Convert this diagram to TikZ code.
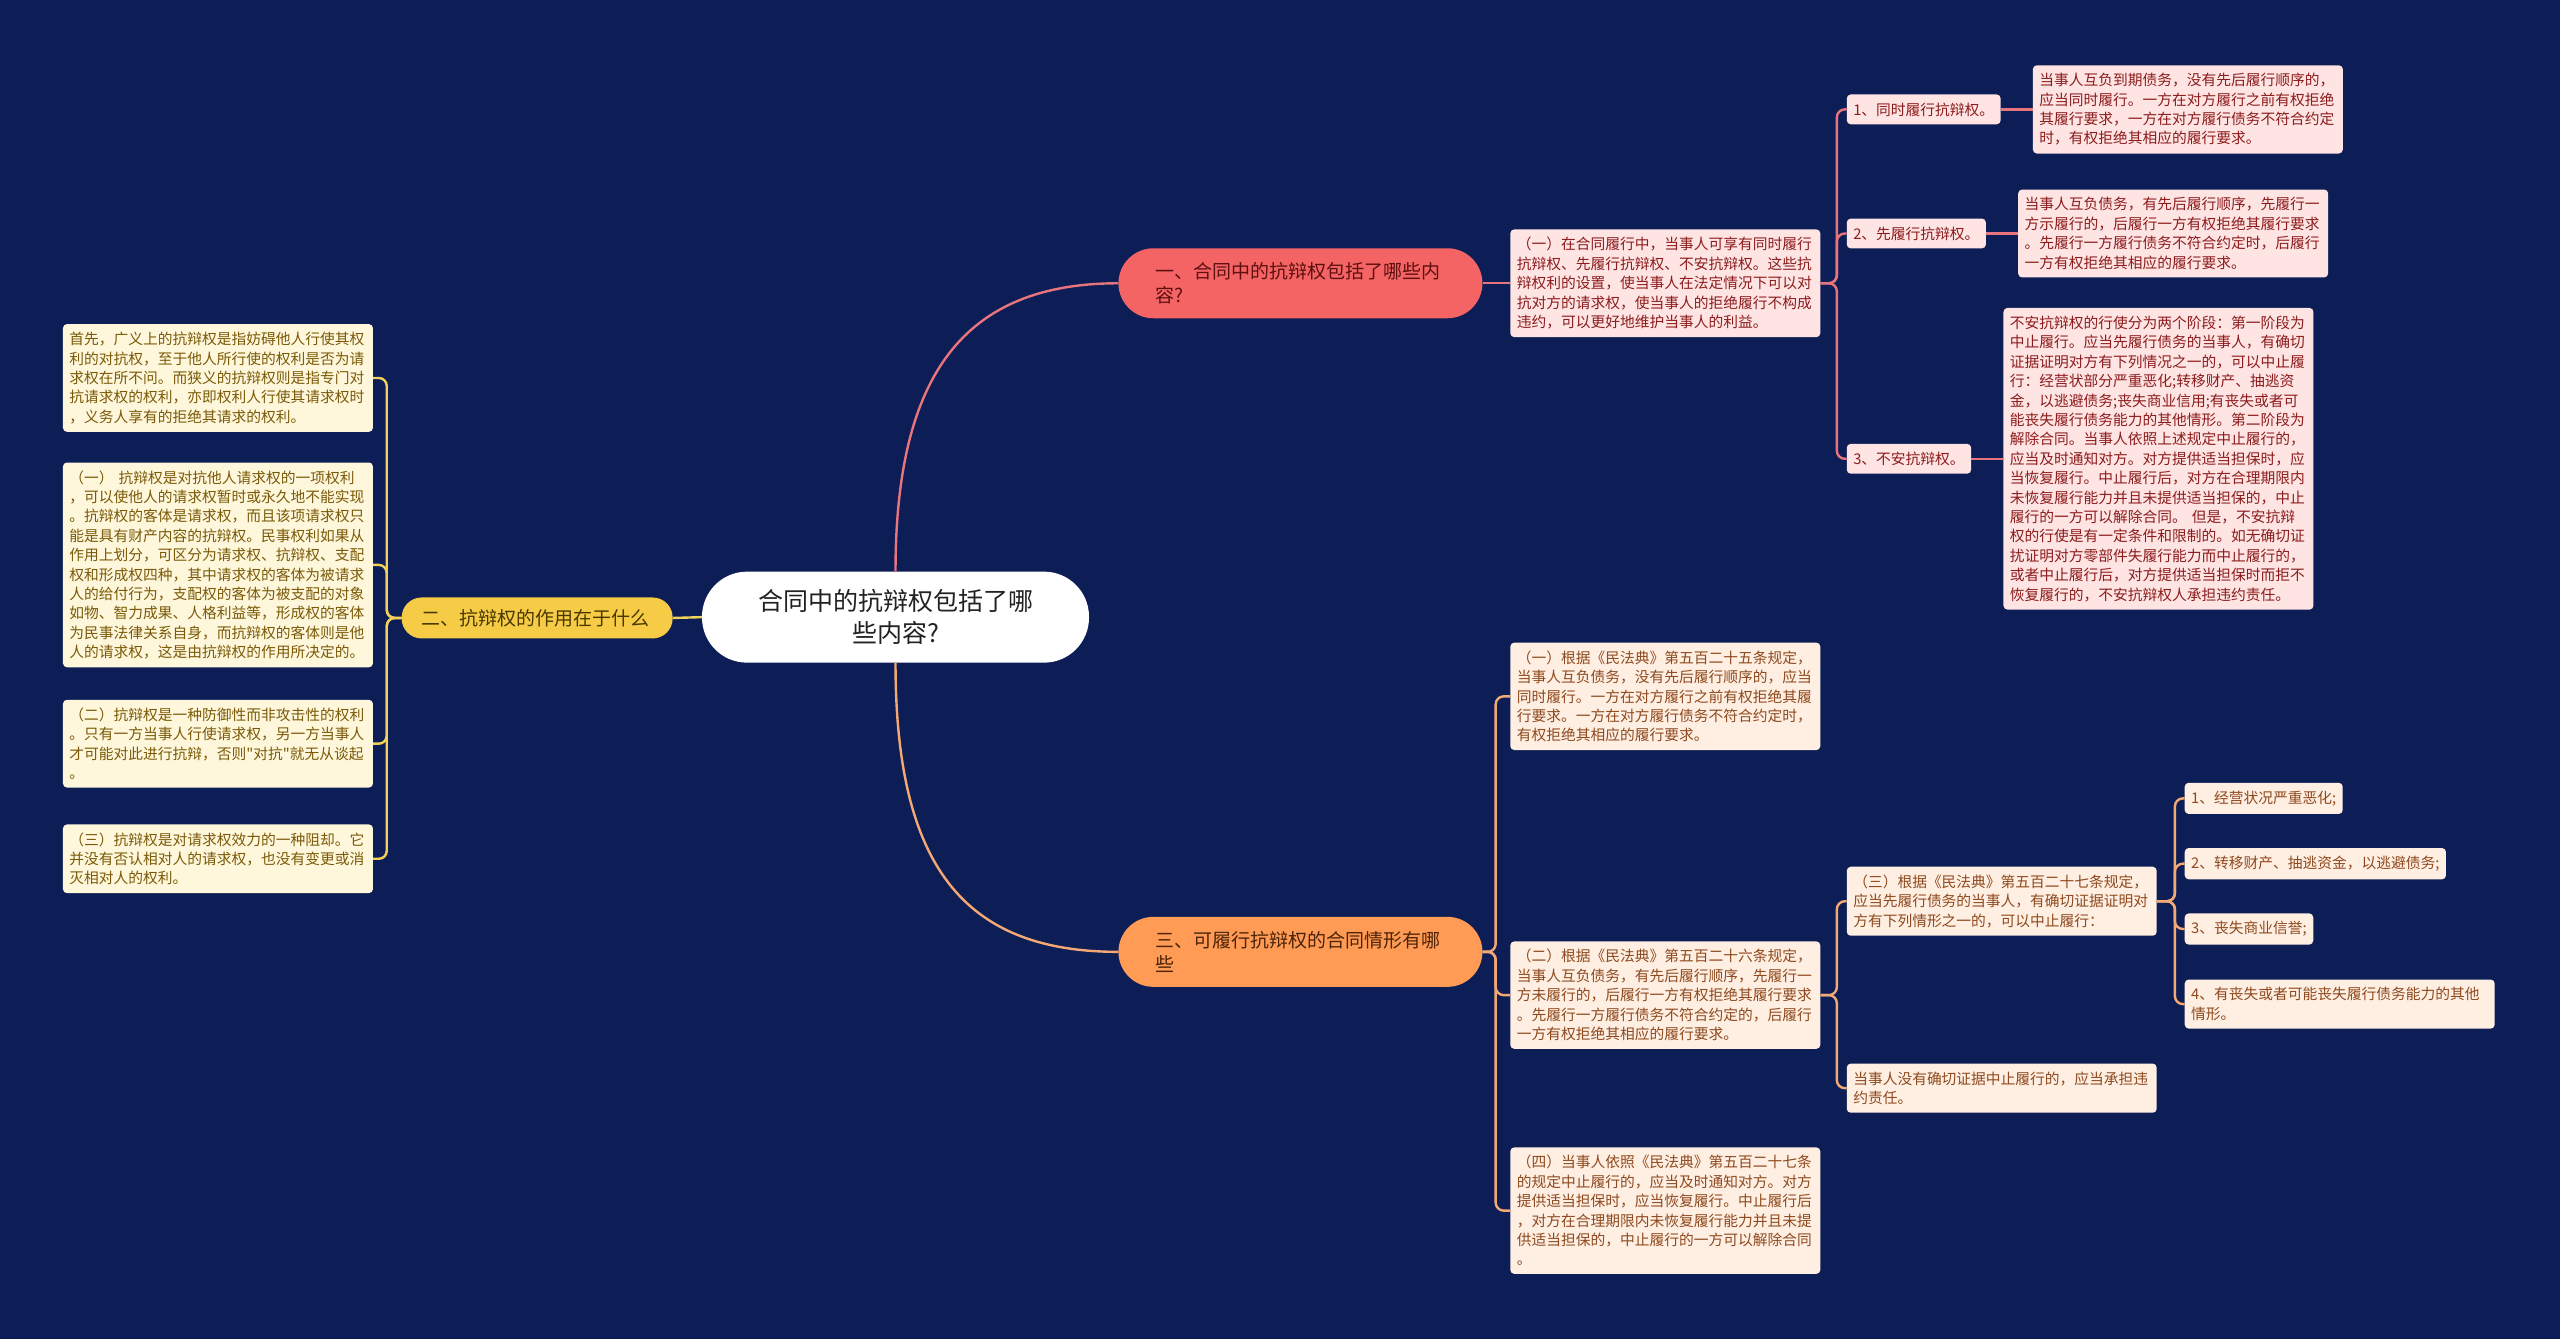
\documentclass[tikz,border=0pt]{standalone}
\usepackage{fontspec}
\newfontfamily\cjkfont{Noto Sans CJK SC}

\definecolor{clNavy}{HTML}{0C1E55}
\definecolor{clDark}{HTML}{222222}
\definecolor{clRedFill}{HTML}{F46464}
\definecolor{clRedLine}{HTML}{E8747E}
\definecolor{clRedBox}{HTML}{FFE4E4}
\definecolor{clRedText}{HTML}{8C1C1C}
\definecolor{clRedHead}{HTML}{5E0F0F}
\definecolor{clYelFill}{HTML}{F6CB45}
\definecolor{clYelLine}{HTML}{F3D05A}
\definecolor{clYelBox}{HTML}{FFF7DB}
\definecolor{clYelText}{HTML}{7A5A08}
\definecolor{clYelHead}{HTML}{4A3800}
\definecolor{clOraFill}{HTML}{FF9B55}
\definecolor{clOraLine}{HTML}{F4A874}
\definecolor{clOraBox}{HTML}{FFEEE2}
\definecolor{clOraText}{HTML}{8E4A1E}
\definecolor{clOraHead}{HTML}{4C2408}

\begin{document}
\begin{tikzpicture}[x=1.6327pt, y=-1.6327pt,
    txt/.style={font=\cjkfont\fontsize{14.75}{19.4}\selectfont},
    box/.style={txt, rounded corners=4pt, inner xsep=6.5pt, inner ysep=8pt, text width=297pt, align=left},
    tag/.style={txt, rounded corners=4pt, inner xsep=6.5pt, inner ysep=8pt, anchor=west},
    pill/.style={font=\cjkfont\fontsize{19}{24}\selectfont, inner sep=0pt, minimum width=364pt, minimum height=70pt, rounded corners=35pt, text width=290pt, align=left},
    rcol/.style={fill=clRedBox, text=clRedText},
    ycol/.style={fill=clYelBox, text=clYelText},
    ocol/.style={fill=clOraBox, text=clOraText},
    rlink/.style={draw=clRedLine, line width=2.4pt, rounded corners=8pt},
    ylink/.style={draw=clYelLine, line width=2.4pt, rounded corners=8pt},
    olink/.style={draw=clOraLine, line width=2.4pt, rounded corners=8pt}]

    \fill[clNavy] (0,0) rectangle (1568,820);
    \useasboundingbox (0,0) rectangle (1568,820);

    % root and the three branches
    \node[fill=white, text=clDark, font=\cjkfont\fontsize{25}{32}\selectfont, minimum width=387pt, minimum height=91pt, rounded corners=45pt, align=center] (root) at (548.5,378) {合同中的抗辩权包括了哪\\些内容?};
    \node[pill, fill=clRedFill, text=clRedHead] (b1) at (796.5,173.5) {一、合同中的抗辩权包括了哪些内\\容?};
    \node[pill, fill=clYelFill, text=clYelHead, minimum width=271pt, minimum height=41pt, rounded corners=20pt, text width=232pt] (b2) at (329,378.5) {二、抗辩权的作用在于什么};
    \node[pill, fill=clOraFill, text=clOraHead] (b3) at (796.5,583) {三、可履行抗辩权的合同情形有哪\\些};

    % branch two, left column
    \node[box, ycol] (yl1) at (133.5,231.5) {首先，广义上的抗辩权是指妨碍他人行使其权\\利的对抗权，至于他人所行使的权利是否为请\\求权在所不问。而狭义的抗辩权则是指专门对\\抗请求权的权利，亦即权利人行使其请求权时\\，义务人享有的拒绝其请求的权利。};
    \node[box, ycol] (yl2) at (133.5,346) {（一） 抗辩权是对抗他人请求权的一项权利\\，可以使他人的请求权暂时或永久地不能实现\\。抗辩权的客体是请求权，而且该项请求权只\\能是具有财产内容的抗辩权。民事权利如果从\\作用上划分，可区分为请求权、抗辩权、支配\\权和形成权四种，其中请求权的客体为被请求\\人的给付行为，支配权的客体为被支配的对象\\如物、智力成果、人格利益等，形成权的客体\\为民事法律关系自身，而抗辩权的客体则是他\\人的请求权，这是由抗辩权的作用所决定的。};
    \node[box, ycol] (yl3) at (133.5,455.5) {（二）抗辩权是一种防御性而非攻击性的权利\\。只有一方当事人行使请求权，另一方当事人\\才可能对此进行抗辩，否则"对抗"就无从谈起\\。};
    \node[box, ycol] (yl4) at (133.5,526) {（三）抗辩权是对请求权效力的一种阻却。它\\并没有否认相对人的请求权，也没有变更或消\\灭相对人的权利。};

    % branch one
    \node[box, rcol] (rd1) at (1020,173.5) {（一）在合同履行中，当事人可享有同时履行\\抗辩权、先履行抗辩权、不安抗辩权。这些抗\\辩权利的设置，使当事人在法定情况下可以对\\抗对方的请求权，使当事人的拒绝履行不构成\\违约，可以更好地维护当事人的利益。};
    \node[tag, rcol] (rt1) at (1131,67) {1、同时履行抗辩权。};
    \node[tag, rcol] (rt2) at (1131,143) {2、先履行抗辩权。};
    \node[tag, rcol] (rt3) at (1131,281) {3、不安抗辩权。};
    \node[box, rcol, anchor=west] (rl1) at (1245,67) {当事人互负到期债务，没有先后履行顺序的，\\应当同时履行。一方在对方履行之前有权拒绝\\其履行要求，一方在对方履行债务不符合约定\\时，有权拒绝其相应的履行要求。};
    \node[box, rcol, anchor=west] (rl2) at (1236,143) {当事人互负债务，有先后履行顺序，先履行一\\方示履行的，后履行一方有权拒绝其履行要求\\。先履行一方履行债务不符合约定时，后履行\\一方有权拒绝其相应的履行要求。};
    \node[box, rcol, anchor=west] (rl3) at (1227,281) {不安抗辩权的行使分为两个阶段：第一阶段为\\中止履行。应当先履行债务的当事人，有确切\\证据证明对方有下列情况之一的，可以中止履\\行：经营状部分严重恶化;转移财产、抽逃资\\金，以逃避债务;丧失商业信用;有丧失或者可\\能丧失履行债务能力的其他情形。第二阶段为\\解除合同。当事人依照上述规定中止履行的，\\应当及时通知对方。对方提供适当担保时，应\\当恢复履行。中止履行后，对方在合理期限内\\未恢复履行能力并且未提供适当担保的，中止\\履行的一方可以解除合同。 但是，不安抗辩\\权的行使是有一定条件和限制的。如无确切证\\扰证明对方零部件失履行能力而中止履行的，\\或者中止履行后，对方提供适当担保时而拒不\\恢复履行的，不安抗辩权人承担违约责任。};

    % branch three
    \node[box, ocol] (oc1) at (1020,426.5) {（一）根据《民法典》第五百二十五条规定，\\当事人互负债务，没有先后履行顺序的，应当\\同时履行。一方在对方履行之前有权拒绝其履\\行要求。一方在对方履行债务不符合约定时，\\有权拒绝其相应的履行要求。};
    \node[box, ocol] (oc2) at (1020,609.5) {（二）根据《民法典》第五百二十六条规定，\\当事人互负债务，有先后履行顺序，先履行一\\方未履行的，后履行一方有权拒绝其履行要求\\。先履行一方履行债务不符合约定的，后履行\\一方有权拒绝其相应的履行要求。};
    \node[box, ocol] (oc3) at (1020,741.5) {（四）当事人依照《民法典》第五百二十七条\\的规定中止履行的，应当及时通知对方。对方\\提供适当担保时，应当恢复履行。中止履行后\\，对方在合理期限内未恢复履行能力并且未提\\供适当担保的，中止履行的一方可以解除合同\\。};
    \node[box, ocol, anchor=west] (oc21) at (1131,552) {（三）根据《民法典》第五百二十七条规定，\\应当先履行债务的当事人，有确切证据证明对\\方有下列情形之一的，可以中止履行：};
    \node[box, ocol, anchor=west] (oc22) at (1131,666.5) {当事人没有确切证据中止履行的，应当承担违\\约责任。};
    \node[tag, ocol] (oi1) at (1338,489) {1、经营状况严重恶化;};
    \node[tag, ocol] (oi2) at (1338,529) {2、转移财产、抽逃资金，以逃避债务;};
    \node[tag, ocol] (oi3) at (1338,569) {3、丧失商业信誉;};
    \node[box, ocol, anchor=west] (oi4) at (1338,615) {4、有丧失或者可能丧失履行债务能力的其他\\情形。};

    % connectors
    \draw[rlink] (root.north) .. controls (548.5,230) and (590,173.5) .. (b1.west);
    \draw[rlink] (b1.east) -- (rd1.west);
    \draw[rlink] (rd1.east) -- ++(10,0) |- (rt1.west);
    \draw[rlink] (rd1.east) -- ++(10,0) |- (rt2.west);
    \draw[rlink] (rd1.east) -- ++(10,0) |- (rt3.west);
    \draw[rlink] (rt1.east) -- (rl1.west);
    \draw[rlink] (rt2.east) -- (rl2.west);
    \draw[rlink] (rt3.east) -- (rl3.west);

    \draw[ylink] (root.west) -- (b2.east);
    \draw[ylink] (b2.west) -- ++(-9,0) |- (yl1.east);
    \draw[ylink] (b2.west) -- ++(-9,0) |- (yl2.east);
    \draw[ylink] (b2.west) -- ++(-9,0) |- (yl3.east);
    \draw[ylink] (b2.west) -- ++(-9,0) |- (yl4.east);

    \draw[olink] (root.south) .. controls (548.5,530) and (590,583) .. (b3.west);
    \draw[olink] (b3.east) -- ++(8,0) |- (oc1.west);
    \draw[olink] (b3.east) -- ++(8,0) |- (oc2.west);
    \draw[olink] (b3.east) -- ++(8,0) |- (oc3.west);
    \draw[olink] (oc2.east) -- ++(10,0) |- (oc21.west);
    \draw[olink] (oc2.east) -- ++(10,0) |- (oc22.west);
    \draw[olink] (oc21.east) -- ++(11,0) |- (oi1.west);
    \draw[olink] (oc21.east) -- ++(11,0) |- (oi2.west);
    \draw[olink] (oc21.east) -- ++(11,0) |- (oi3.west);
    \draw[olink] (oc21.east) -- ++(11,0) |- (oi4.west);
\end{tikzpicture}
\end{document}
